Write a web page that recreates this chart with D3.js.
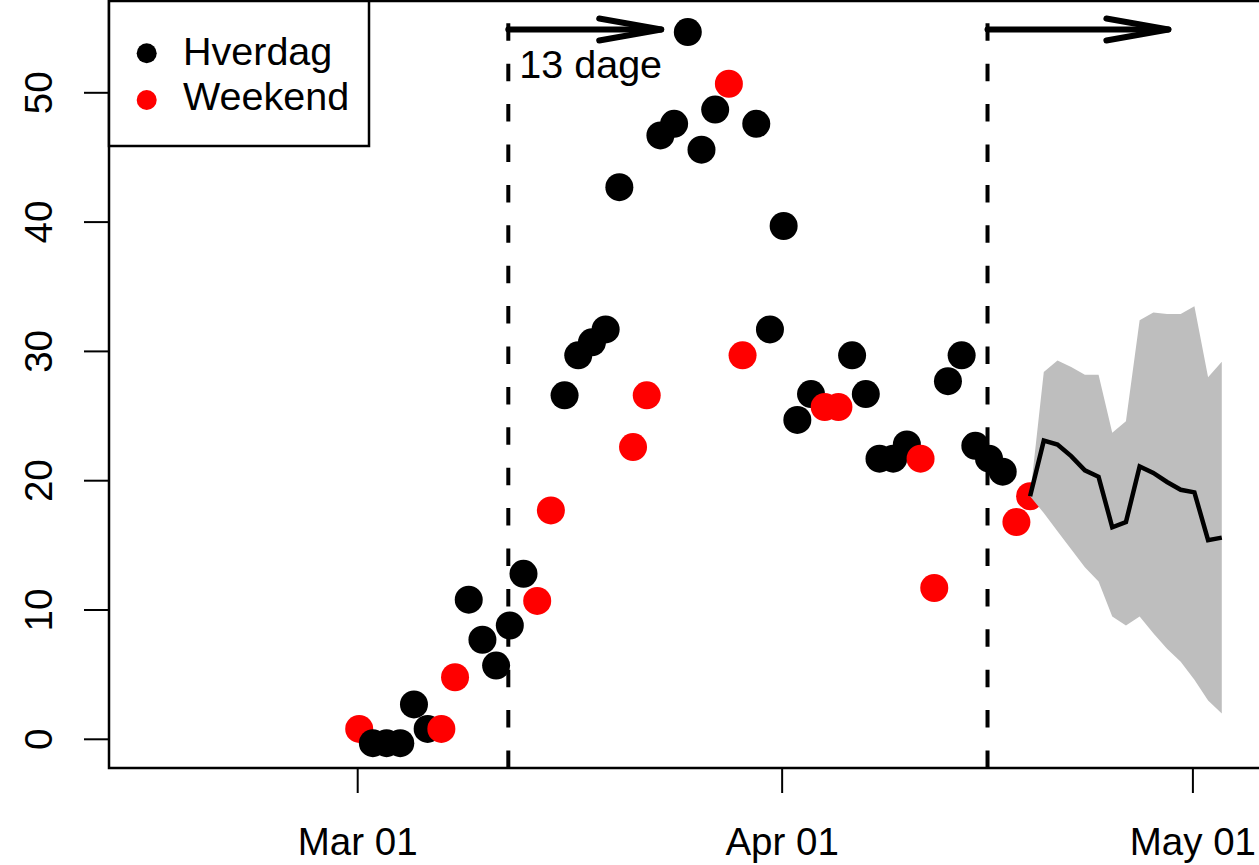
<!DOCTYPE html>
<html lang="da">
  <head>
    <meta charset="UTF-8" />
    <title>Hverdag / Weekend</title>
    <script src="https://d3js.org/d3.v7.min.js"></script>
    <style>
      body {
        margin: 0;
        background: #fff;
        font-family: "Liberation Sans", Arial, sans-serif;
      }
      text {
        font-size: 38.5px;
        fill: #000;
      }
      .big {
        font-size: 39.5px;
      }
    </style>
  </head>
  <body>
    <script>
      // observed days
      var obsDates = [
        "2020-03-01", "2020-03-02", "2020-03-03", "2020-03-04", "2020-03-05",
        "2020-03-06", "2020-03-07", "2020-03-08", "2020-03-09", "2020-03-10",
        "2020-03-11", "2020-03-12", "2020-03-13", "2020-03-14", "2020-03-15",
        "2020-03-16", "2020-03-17", "2020-03-18", "2020-03-19", "2020-03-20",
        "2020-03-21", "2020-03-22", "2020-03-23", "2020-03-24", "2020-03-25",
        "2020-03-26", "2020-03-27", "2020-03-28", "2020-03-29", "2020-03-30",
        "2020-03-31", "2020-04-01", "2020-04-02", "2020-04-03", "2020-04-04",
        "2020-04-05", "2020-04-06", "2020-04-07", "2020-04-08", "2020-04-09",
        "2020-04-10", "2020-04-11", "2020-04-12", "2020-04-13", "2020-04-14",
        "2020-04-15", "2020-04-16", "2020-04-17", "2020-04-18", "2020-04-19"
      ];
      var obsValues = [
        0.8, -0.3, -0.3, -0.3, 2.7, 0.8, 0.8, 4.8, 10.8, 7.7,
        5.7, 8.8, 12.8, 10.7, 17.7, 26.6, 29.7, 30.7, 31.7, 42.7,
        22.6, 26.6, 46.7, 47.6, 54.7, 45.6, 48.7, 50.7, 29.7, 47.6,
        31.7, 39.7, 24.7, 26.7, 25.7, 25.7, 29.7, 26.7, 21.7, 21.7,
        22.8, 21.7, 11.7, 27.7, 29.7, 22.7, 21.7, 20.7, 16.8, 18.8
      ];

      // forecast (line + band)
      var fcDates = [
        "2020-04-19", "2020-04-20", "2020-04-21", "2020-04-22", "2020-04-23",
        "2020-04-24", "2020-04-25", "2020-04-26", "2020-04-27", "2020-04-28",
        "2020-04-29", "2020-04-30", "2020-05-01", "2020-05-02", "2020-05-03"
      ];
      var fcMean = [18.8, 23.1, 22.8, 21.9, 20.8, 20.3, 16.4, 16.8, 21.1, 20.6, 19.9, 19.3, 19.1, 15.4, 15.6];
      var fcUpper = [18.8, 28.4, 29.3, 28.8, 28.2, 28.2, 23.7, 24.6, 32.4, 33.0, 32.9, 32.9, 33.5, 28.0, 29.2];
      var fcLower = [18.8, 17.5, 16.1, 14.7, 13.3, 12.2, 9.5, 8.8, 9.5, 8.2, 7.0, 6.0, 4.6, 3.0, 2.0];

      // markers: lockdown / reopening, arrows of 13 days
      var markerDates = ["2020-03-12", "2020-04-16"];
      var arrowEnds = ["2020-03-23T04:00", "2020-04-29T05:00"];
      var arrowLevel = 54.9;
      var arrowLabel = "13 dage";

      var xTicks = ["2020-03-01", "2020-04-01", "2020-05-01"];
      var yTicks = [0, 10, 20, 30, 40, 50];
      var legendLabels = ["Hverdag", "Weekend"];
      var colors = { Hverdag: "#000000", Weekend: "#ff0000" };

      var width = 1259,
        height = 865;
      var plot = { left: 109, top: 1, bottom: 768, right: 1300 };

      var parseDay = d3.utcParse("%Y-%m-%d");
      var parseTime = d3.utcParse("%Y-%m-%dT%H:%M");

      var x = d3
        .scaleUtc()
        .domain([parseDay("2020-03-01"), parseDay("2020-05-01")])
        .range([357.7, 1192.9]);
      var y = d3.scaleLinear().domain([0, 50]).range([739.3, 92.8]);

      var svg = d3
        .select("body")
        .append("svg")
        .attr("width", width)
        .attr("height", height);

      var obs = obsDates.map(function (d, i) {
        var date = parseDay(d);
        var dow = date.getUTCDay();
        return {
          date: date,
          value: obsValues[i],
          type: dow === 0 || dow === 6 ? "Weekend" : "Hverdag",
        };
      });
      var fc = fcDates.map(function (d, i) {
        return {
          date: parseDay(d),
          mean: fcMean[i],
          lo: fcLower[i],
          hi: fcUpper[i],
        };
      });

      // points (drawn a bit right of midnight, as in the original)
      svg
        .selectAll(".pt")
        .data(obs)
        .enter()
        .append("circle")
        .attr("class", "pt")
        .attr("cx", function (d) { return x(d.date) + 1.5; })
        .attr("cy", function (d) { return y(d.value); })
        .attr("r", 14)
        .attr("fill", function (d) { return colors[d.type]; });

      // dashed vertical lines
      svg
        .selectAll(".vline")
        .data(markerDates)
        .enter()
        .append("line")
        .attr("x1", function (d) { return x(parseDay(d)); })
        .attr("x2", function (d) { return x(parseDay(d)); })
        .attr("y1", plot.bottom)
        .attr("y2", plot.top)
        .attr("stroke", "#000")
        .attr("stroke-width", 4)
        .attr("stroke-dasharray", "17.5,22.9");

      // arrows
      markerDates.forEach(function (d, i) {
        var x0 = x(parseDay(d)),
          x1 = x(parseTime(arrowEnds[i])),
          ya = y(arrowLevel);
        var g = svg
          .append("g")
          .attr("fill", "none")
          .attr("stroke", "#000")
          .attr("stroke-width", 6)
          .attr("stroke-linecap", "round")
          .attr("stroke-linejoin", "round");
        g.append("line").attr("x1", x0).attr("x2", x1).attr("y1", ya).attr("y2", ya);
        g.append("path").attr(
          "d",
          d3.line()([
            [x1 - 62, ya - 11],
            [x1, ya],
            [x1 - 62, ya + 11],
          ])
        );
      });

      svg
        .append("text")
        .attr("class", "big")
        .attr("x", x(parseDay(markerDates[0])) + 11)
        .attr("y", y(arrowLevel) + 49)
        .text(arrowLabel);

      // forecast band and line
      svg
        .append("path")
        .datum(fc)
        .attr("fill", "#bebebe")
        .attr(
          "d",
          d3
            .area()
            .x(function (d) { return x(d.date) + 1.5; })
            .y0(function (d) { return y(d.lo); })
            .y1(function (d) { return y(d.hi); })
        );
      svg
        .append("path")
        .datum(fc)
        .attr("fill", "none")
        .attr("stroke", "#000")
        .attr("stroke-width", 4.5)
        .attr(
          "d",
          d3
            .line()
            .x(function (d) { return x(d.date) + 1.5; })
            .y(function (d) { return y(d.mean); })
        );

      // box
      svg
        .append("rect")
        .attr("x", plot.left)
        .attr("y", plot.top)
        .attr("width", plot.right - plot.left)
        .attr("height", plot.bottom - plot.top)
        .attr("fill", "none")
        .attr("stroke", "#000")
        .attr("stroke-width", 2.5);

      // y axis
      var yAxis = svg.append("g");
      yAxis
        .selectAll("line")
        .data(yTicks)
        .enter()
        .append("line")
        .attr("x1", plot.left - 25)
        .attr("x2", plot.left)
        .attr("y1", function (d) { return y(d); })
        .attr("y2", function (d) { return y(d); })
        .attr("stroke", "#000")
        .attr("stroke-width", 2);
      yAxis
        .selectAll("text")
        .data(yTicks)
        .enter()
        .append("text")
        .attr("text-anchor", "middle")
        .attr("transform", function (d) {
          return "translate(52," + y(d) + ") rotate(-90)";
        })
        .text(function (d) { return d; });

      // x axis
      var xAxis = svg.append("g");
      xAxis
        .selectAll("line")
        .data(xTicks)
        .enter()
        .append("line")
        .attr("x1", function (d) { return x(parseDay(d)); })
        .attr("x2", function (d) { return x(parseDay(d)); })
        .attr("y1", plot.bottom)
        .attr("y2", plot.bottom + 25)
        .attr("stroke", "#000")
        .attr("stroke-width", 2);
      xAxis
        .selectAll("text")
        .data(xTicks)
        .enter()
        .append("text")
        .attr("text-anchor", "middle")
        .attr("x", function (d) { return x(parseDay(d)); })
        .attr("y", 855)
        .text(function (d) { return d3.utcFormat("%b %d")(parseDay(d)); });

      // legend
      var legend = svg.append("g");
      legend
        .append("rect")
        .attr("x", plot.left)
        .attr("y", plot.top)
        .attr("width", 260)
        .attr("height", 145)
        .attr("fill", "#fff")
        .attr("stroke", "#000")
        .attr("stroke-width", 2.5);
      legendLabels.forEach(function (lab, i) {
        legend
          .append("circle")
          .attr("cx", 146.7)
          .attr("cy", 53.3 + i * 46.7)
          .attr("r", 10)
          .attr("fill", colors[lab]);
        legend
          .append("text")
          .attr("class", "big")
          .attr("x", 183)
          .attr("y", 65 + i * 45)
          .text(lab);
      });
    </script>
  </body>
</html>
